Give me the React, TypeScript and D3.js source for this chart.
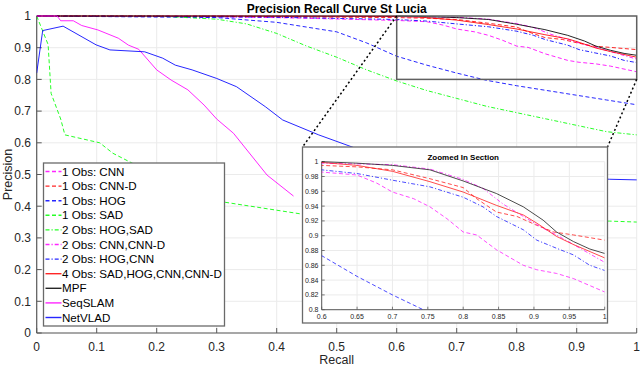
import React from "react";
import * as d3 from "d3";

// ---------- data ----------
const xTicks = [0, 0.1, 0.2, 0.3, 0.4, 0.5, 0.6, 0.7, 0.8, 0.9, 1];
const yTicks = [0, 0.1, 0.2, 0.3, 0.4, 0.5, 0.6, 0.7, 0.8, 0.9, 1];
const xTickLabels = ["0", "0.1", "0.2", "0.3", "0.4", "0.5", "0.6", "0.7", "0.8", "0.9", "1"];
const yTickLabels = ["0", "0.1", "0.2", "0.3", "0.4", "0.5", "0.6", "0.7", "0.8", "0.9", "1"];
const ixTicks = [0.6, 0.65, 0.7, 0.75, 0.8, 0.85, 0.9, 0.95, 1];
const ixTickLabels = ["0.6", "0.65", "0.7", "0.75", "0.8", "0.85", "0.9", "0.95", "1"];
const iyTicks = [0.8, 0.82, 0.84, 0.86, 0.88, 0.9, 0.92, 0.94, 0.96, 0.98, 1];
const iyTickLabels = ["0.8", "0.82", "0.84", "0.86", "0.88", "0.9", "0.92", "0.94", "0.96", "0.98", "1"];

const cnnR = [0, 0.2, 0.4, 0.6, 0.65, 0.678, 0.7, 0.73, 0.753, 0.777, 0.8, 0.819, 0.847, 0.885, 0.904, 0.932, 0.956, 1.0];
const cnnP = [1, 0.999, 0.995, 0.986, 0.982, 0.971, 0.959, 0.95, 0.939, 0.923, 0.905, 0.901, 0.881, 0.86, 0.854, 0.849, 0.842, 0.824];

const cnndR = [0, 0.3, 0.6, 0.65, 0.7, 0.753, 0.8, 0.819, 0.847, 0.876, 0.904, 0.928, 0.956, 1.0];
const cnndP = [1, 0.999, 0.995, 0.993, 0.989, 0.977, 0.965, 0.95, 0.932, 0.926, 0.914, 0.905, 0.901, 0.894];

const hogR = [0, 0.3, 0.4, 0.45, 0.5, 0.55, 0.6, 0.65, 0.7, 0.75, 0.8, 0.85, 0.9, 0.95, 1.0];
const hogP = [1, 0.995, 0.98, 0.965, 0.95, 0.915, 0.873, 0.845, 0.82, 0.797, 0.78, 0.765, 0.75, 0.735, 0.72];

const sadR = [0, 0.019, 0.024, 0.04, 0.047, 0.105, 0.127, 0.16, 0.2, 0.25, 0.305, 0.384, 0.439, 0.6, 0.8, 0.955, 1.0];
const sadP = [1, 0.91, 0.756, 0.675, 0.625, 0.6, 0.567, 0.535, 0.49, 0.45, 0.415, 0.392, 0.376, 0.365, 0.357, 0.353, 0.35];

const hogSadR = [0, 0.2, 0.3, 0.35, 0.4, 0.45, 0.5, 0.55, 0.6, 0.65, 0.7, 0.75, 0.8, 0.85, 0.9, 0.95, 1.0];
const hogSadP = [1, 1, 0.99, 0.975, 0.945, 0.905, 0.87, 0.83, 0.795, 0.765, 0.74, 0.715, 0.695, 0.675, 0.655, 0.635, 0.625];

const cnnCnndR = [0, 0.3, 0.6, 0.7, 0.753, 0.8, 0.828, 0.856, 0.885, 0.913, 0.932, 0.956, 1.0];
const cnnCnndP = [1, 1, 0.998, 0.996, 0.99, 0.976, 0.964, 0.943, 0.926, 0.91, 0.901, 0.888, 0.864];

const hogCnnR = [0, 0.2, 0.4, 0.6, 0.65, 0.7, 0.753, 0.8, 0.828, 0.847, 0.885, 0.904, 0.932, 0.956, 0.979, 1.0];
const hogCnnP = [1, 0.999, 0.996, 0.989, 0.984, 0.975, 0.966, 0.952, 0.939, 0.926, 0.908, 0.894, 0.883, 0.874, 0.86, 0.853];

const allR = [0, 0.3, 0.6, 0.65, 0.7, 0.753, 0.8, 0.847, 0.885, 0.904, 0.932, 0.956, 1.0];
const allP = [1, 1, 0.999, 0.995, 0.987, 0.973, 0.959, 0.941, 0.928, 0.917, 0.899, 0.888, 0.87];

const mpfR = [0, 0.3, 0.6, 0.65, 0.7, 0.753, 0.8, 0.847, 0.885, 0.913, 0.932, 0.956, 0.979, 1.0];
const mpfP = [1, 1, 1, 0.998, 0.995, 0.989, 0.974, 0.957, 0.939, 0.921, 0.905, 0.892, 0.882, 0.876];

const seqR = [0, 0.034, 0.04, 0.061, 0.075, 0.102, 0.136, 0.153, 0.17, 0.2, 0.224, 0.252, 0.279, 0.3, 0.328, 0.384, 0.428];
const seqP = [1, 1, 0.985, 0.985, 0.97, 0.956, 0.93, 0.908, 0.895, 0.83, 0.798, 0.767, 0.719, 0.675, 0.63, 0.498, 0.432];

const netR = [0, 0.01, 0.044, 0.099, 0.122, 0.18, 0.21, 0.231, 0.259, 0.3, 0.333, 0.381, 0.41, 0.47, 0.54, 0.6, 0.7, 0.8, 0.9, 0.955, 1.0];
const netP = [0.82, 0.954, 0.968, 0.909, 0.893, 0.887, 0.867, 0.845, 0.83, 0.803, 0.777, 0.714, 0.672, 0.625, 0.577, 0.55, 0.52, 0.5, 0.49, 0.485, 0.483];

const seriesNames = [
  "1 Obs: CNN",
  "1 Obs: CNN-D",
  "1 Obs: HOG",
  "1 Obs: SAD",
  "2 Obs: HOG,SAD",
  "2 Obs: CNN,CNN-D",
  "2 Obs: HOG,CNN",
  "4 Obs: SAD,HOG,CNN,CNN-D",
  "MPF",
  "SeqSLAM",
  "NetVLAD",
];
const seriesR = [cnnR, cnndR, hogR, sadR, hogSadR, cnnCnndR, hogCnnR, allR, mpfR, seqR, netR];
const seriesP = [cnnP, cnndP, hogP, sadP, hogSadP, cnnCnndP, hogCnnP, allP, mpfP, seqP, netP];
const seriesColor = ["#ff00ff", "#ff0000", "#0000ff", "#00ff00", "#00ff00", "#ff00ff", "#0000ff", "#ff0000", "#000000", "#ff00ff", "#0000ff"];
const seriesStyle = ["dash", "dash", "dash", "dash", "dashdot", "dashdot", "dashdot", "solid", "solid", "solid", "solid"];

// ---------- layout ----------
const W = 640;
const H = 369;
const FONT = "'Liberation Sans', Arial, Helvetica, sans-serif";
const TXT = "#262626";
const AX = "#5a5a5a";
const GRID = "#ebebeb";

const dashOf = (s: string) => (s === "dash" ? "4,2.5" : s === "dashdot" ? "4,2,1.2,2" : undefined);

export default function App() {
  const x = d3.scaleLinear().domain([0, 1]).range([36.7, 636.7]);
  const y = d3.scaleLinear().domain([0, 1]).range([333, 16]);
  const ix = d3.scaleLinear().domain([0.6, 1]).range([321.7, 604.7]);
  const iy = d3.scaleLinear().domain([0.8, 1]).range([309.7, 161.7]);

  const pathFor = (sx: any, sy: any, R: number[], P: number[]) =>
    d3
      .line<[number, number]>()
      .x((d) => sx(d[0]))
      .y((d) => sy(d[1]))
      .curve(d3.curveLinear)(R.map((r, i) => [r, P[i]] as [number, number])) || "";

  const legX = 43.5;
  const legY = 163;
  const legW = 181;
  const legH = 163;
  const legRow0 = 171.5;
  const legStep = 14.6;

  const inset = { x0: 302.5, y0: 147, x1: 607.5, y1: 323 };

  return (
    <svg
      width={W}
      height={H}
      viewBox={`0 0 ${W} ${H}`}
      style={{ position: "absolute", left: 0, top: 0, background: "#fff" }}
      fontFamily={FONT}
    >
      <defs>
        <clipPath id="mainClip">
          <rect x={x(0)} y={y(1) - 1} width={x(1) - x(0) + 1} height={y(0) - y(1) + 1} />
        </clipPath>
        <clipPath id="insetClip">
          <rect x={ix(0.6)} y={iy(1) - 1} width={ix(1) - ix(0.6)} height={iy(0.8) - iy(1) + 1} />
        </clipPath>
      </defs>
      <rect x={0} y={0} width={W} height={H} fill="#fff" />

      {/* title */}
      <text x={336.7} y={12.5} textAnchor="middle" fontSize={12} fontWeight="bold" fill="#000">
        Precision Recall Curve St Lucia
      </text>

      {/* grid */}
      {xTicks.map((t) => (
        <line key={"gx" + t} x1={x(t)} x2={x(t)} y1={y(0)} y2={y(1)} stroke={GRID} strokeWidth={1} />
      ))}
      {yTicks.map((t) => (
        <line key={"gy" + t} x1={x(0)} x2={x(1)} y1={y(t)} y2={y(t)} stroke={GRID} strokeWidth={1} />
      ))}

      {/* axes */}
      <line x1={x(0)} x2={x(0)} y1={y(0)} y2={y(1)} stroke={AX} strokeWidth={1.2} />
      <line x1={x(0)} x2={x(1)} y1={y(0)} y2={y(0)} stroke={AX} strokeWidth={1.2} />
      {xTicks.map((t) => (
        <line key={"tx" + t} x1={x(t)} x2={x(t)} y1={y(0)} y2={y(0) - 5} stroke={AX} strokeWidth={1} />
      ))}
      {yTicks.map((t) => (
        <line key={"ty" + t} x1={x(0)} x2={x(0) + 5} y1={y(t)} y2={y(t)} stroke={AX} strokeWidth={1} />
      ))}
      {xTicks.map((t, i) => (
        <text key={"lx" + t} x={x(t)} y={350.5} textAnchor="middle" fontSize={12} fill={TXT}>
          {xTickLabels[i]}
        </text>
      ))}
      {yTicks.map((t, i) => (
        <text key={"ly" + t} x={31} y={y(t) + 4.3} textAnchor="end" fontSize={12} fill={TXT}>
          {yTickLabels[i]}
        </text>
      ))}
      <text x={336.7} y={364} textAnchor="middle" fontSize={12.5} fill={TXT}>
        Recall
      </text>
      <text
        transform={`translate(11.5,${(y(0) + y(1)) / 2}) rotate(-90)`}
        textAnchor="middle"
        fontSize={12.5}
        fill={TXT}
      >
        Precision
      </text>

      {/* series */}
      <g clipPath="url(#mainClip)">
        {seriesR.map((R, i) => (
          <path
            key={"s" + i}
            d={pathFor(x, y, R, seriesP[i])}
            fill="none"
            stroke={seriesColor[i]}
            strokeWidth={1}
            strokeDasharray={dashOf(seriesStyle[i])}
            strokeOpacity={0.85}
          />
        ))}
      </g>

      {/* zoom rectangle */}
      <rect
        x={x(0.6)}
        y={y(1)}
        width={x(1) - x(0.6)}
        height={y(0.8) - y(1)}
        fill="none"
        stroke="#606060"
        strokeWidth={1.5}
      />
      {/* connectors */}
      <line x1={x(0.6)} y1={y(1)} x2={inset.x0} y2={inset.y0} stroke="#000" strokeWidth={1.5} strokeDasharray="2,2.5" />
      <line x1={x(1)} y1={y(0.8)} x2={inset.x1} y2={inset.y0} stroke="#000" strokeWidth={1.5} strokeDasharray="2,2.5" />

      {/* legend */}
      <rect x={legX} y={legY} width={legW} height={legH} fill="#fff" stroke="#6a6a6a" strokeWidth={1.3} />
      {seriesNames.map((n, i) => {
        const yy = legRow0 + i * legStep;
        return (
          <g key={"lg" + i}>
            <line
              x1={45.5}
              x2={61.5}
              y1={yy}
              y2={yy}
              stroke={seriesColor[i]}
              strokeWidth={1.4}
              strokeOpacity={0.85}
              strokeDasharray={dashOf(seriesStyle[i])}
            />
            <text x={62} y={yy + 4.1} fontSize={11.6} fill="#000">
              {n}
            </text>
          </g>
        );
      })}

      {/* inset */}
      <rect
        x={inset.x0}
        y={inset.y0}
        width={inset.x1 - inset.x0}
        height={inset.y1 - inset.y0}
        fill="#fff"
        stroke="#6a6a6a"
        strokeWidth={1.3}
      />
      <text x={(ix(0.6) + ix(1)) / 2} y={159.5} textAnchor="middle" fontSize={8} fontWeight="bold" fill="#000">
        Zoomed In Section
      </text>
      {ixTicks.map((t) => (
        <line key={"igx" + t} x1={ix(t)} x2={ix(t)} y1={iy(0.8)} y2={iy(1)} stroke={GRID} strokeWidth={1} />
      ))}
      {iyTicks.map((t) => (
        <line key={"igy" + t} x1={ix(0.6)} x2={ix(1)} y1={iy(t)} y2={iy(t)} stroke={GRID} strokeWidth={1} />
      ))}
      <line x1={ix(0.6)} x2={ix(0.6)} y1={iy(0.8)} y2={iy(1)} stroke={AX} strokeWidth={1} />
      <line x1={ix(0.6)} x2={ix(1)} y1={iy(0.8)} y2={iy(0.8)} stroke={AX} strokeWidth={1} />
      {ixTicks.map((t) => (
        <line key={"itx" + t} x1={ix(t)} x2={ix(t)} y1={iy(0.8)} y2={iy(0.8) - 3} stroke={AX} strokeWidth={0.8} />
      ))}
      {iyTicks.map((t) => (
        <line key={"ity" + t} x1={ix(0.6)} x2={ix(0.6) + 3} y1={iy(t)} y2={iy(t)} stroke={AX} strokeWidth={0.8} />
      ))}
      {ixTicks.map((t, i) => (
        <text key={"ilx" + t} x={ix(t)} y={319} textAnchor="middle" fontSize={7} fill={TXT}>
          {ixTickLabels[i]}
        </text>
      ))}
      {iyTicks.map((t, i) => (
        <text key={"ily" + t} x={318.5} y={iy(t) + 2.5} textAnchor="end" fontSize={7} fill={TXT}>
          {iyTickLabels[i]}
        </text>
      ))}
      <g clipPath="url(#insetClip)">
        {seriesR.map((R, i) => (
          <path
            key={"is" + i}
            d={pathFor(ix, iy, R, seriesP[i])}
            fill="none"
            stroke={seriesColor[i]}
            strokeWidth={1}
            strokeDasharray={dashOf(seriesStyle[i])}
            strokeOpacity={0.7}
          />
        ))}
      </g>
    </svg>
  );
}
